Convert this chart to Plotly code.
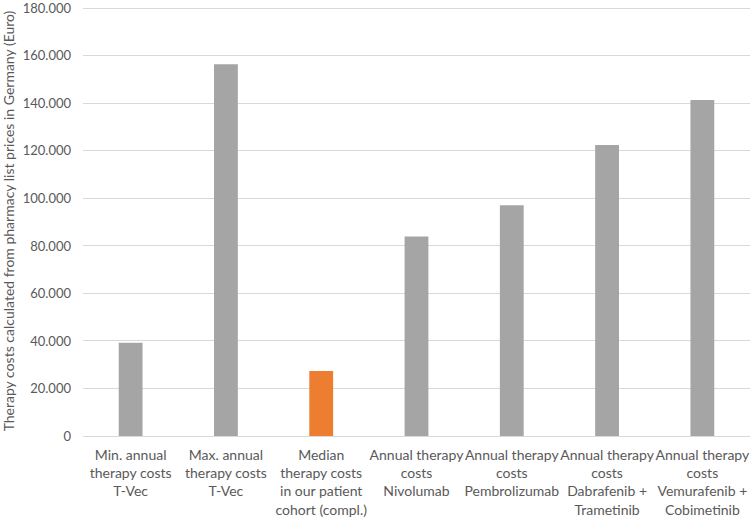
import plotly.graph_objects as go

categories = [
    "Min. annual<br>therapy costs<br>T-Vec",
    "Max. annual<br>therapy costs<br>T-Vec",
    "Median<br>therapy costs<br>in our patient<br>cohort (compl.)",
    "Annual therapy<br>costs<br>Nivolumab",
    "Annual therapy<br>costs<br>Pembrolizumab",
    "Annual therapy<br>costs<br>Dabrafenib +<br>Trametinib",
    "Annual therapy<br>costs<br>Vemurafenib +<br>Cobimetinib",
]
values = [39200, 156500, 27400, 84000, 97100, 122500, 141400]
colors = ["#a5a5a5", "#a5a5a5", "#ed7d31", "#a5a5a5", "#a5a5a5", "#a5a5a5", "#a5a5a5"]
y_ticks = [0, 20000, 40000, 60000, 80000, 100000, 120000, 140000, 160000, 180000]

fig = go.Figure(go.Bar(x=categories, y=values, marker=dict(color=colors, line=dict(width=0)),
                       width=0.25))

font = "Lato, 'Open Sans', sans-serif"
fig.update_layout(
    width=750, height=517,
    margin=dict(l=83, r=0, t=6, b=81),
    plot_bgcolor="white", paper_bgcolor="white",
    separators=",.",
    showlegend=False,
    font=dict(family=font, size=14, color="#595959"),
)
fig.update_xaxes(
    showgrid=False, showline=False, ticks="",
    tickangle=0, automargin=False,
    tickfont=dict(size=14, color="#595959"),
    ticklabelstandoff=9,
    ticklabeloverflow="allow",
)
fig.update_yaxes(
    range=[0, 181000], tickvals=y_ticks, tickformat=",.0f",
    showgrid=True, gridcolor="#d9d9d9", gridwidth=1,
    zeroline=True, zerolinecolor="#d9d9d9", zerolinewidth=1,
    showline=False, ticks="", automargin=False,
    tickfont=dict(size=13, color="#595959"),
    ticklabelstandoff=11,
    ticklabeloverflow="allow",
    title=dict(text="Therapy costs calculated from pharmacy list prices in Germany (Euro)",
               font=dict(size=14, color="#595959"), standoff=4),
)

fig.write_html("out.html", config={"displayModeBar": False},
               post_script="document.body.style.margin='0';")
